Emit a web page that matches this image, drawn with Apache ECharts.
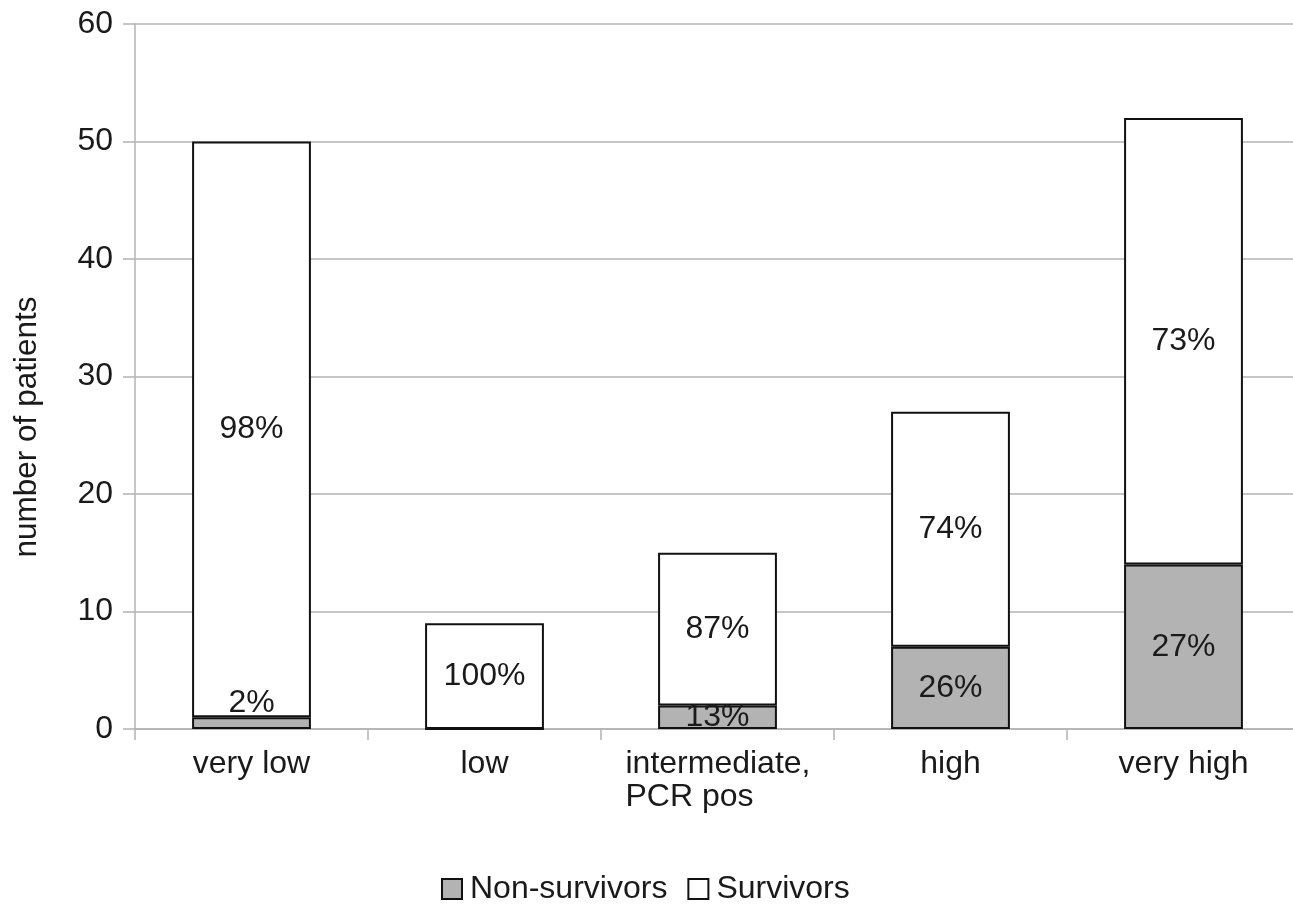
<!DOCTYPE html>
<html>
<head>
<meta charset="utf-8">
<script src="https://cdn.jsdelivr.net/npm/echarts@6/dist/echarts.min.js"></script>
<style>
  html, body { margin: 0; padding: 0; background: #ffffff; overflow: hidden; }
  /* the plot runs a few pixels past the page's right edge */
  #chart { width: 1300px; height: 904px; }
</style>
</head>
<body>
<div id="chart"></div>
<script>
// Risk groups and patient counts per outcome
const categories = ['very low', 'low', 'intermediate,\nPCR pos', 'high', 'very high'];
const nonSurvivors = [1, 0, 2, 7, 14];
const survivors = [49, 9, 13, 20, 38];
const yTicks = [0, 10, 20, 30, 40, 50, 60];

const FONT = '"Liberation Sans", Arial, sans-serif';
const TEXT = '#1a1a1a';
const FS = 32;

// share of each group's total, shown inside the segment
function pctLabel(values, others) {
  return function (p) {
    const v = values[p.dataIndex];
    const total = v + others[p.dataIndex];
    if (!v) return '';
    return Math.round(v / total * 100) + '%';
  };
}

const chart = echarts.init(document.getElementById('chart'));

chart.setOption({
  animation: false,
  backgroundColor: '#ffffff',
  textStyle: { fontFamily: FONT, color: TEXT },
  grid: { left: 135, top: 24, right: 0, bottom: 175, containLabel: false },
  graphic: [{
    type: 'text',
    x: 27, y: 427,
    rotation: Math.PI / 2,
    style: {
      text: 'number of patients',
      font: '31.5px ' + FONT,
      fill: TEXT,
      align: 'center',
      verticalAlign: 'middle'
    }
  }],
  legend: {
    bottom: -6,
    left: 436,
    itemWidth: 20,
    itemHeight: 20,
    itemGap: 20,
    icon: 'rect',
    textStyle: { fontSize: FS, fontFamily: FONT, color: TEXT, padding: [0, 0, 0, 3] },
    data: ['Non-survivors', 'Survivors']
  },
  xAxis: {
    type: 'category',
    data: categories,
    axisLine: { lineStyle: { color: '#b3b3b3', width: 1.5 } },
    axisTick: { show: true, length: 11, lineStyle: { color: '#b3b3b3', width: 1.5 } },
    axisLabel: {
      interval: 0,
      fontSize: FS,
      fontFamily: FONT,
      color: TEXT,
      margin: 19,
      lineHeight: 33,
      formatter: function (v) {
        if (v.indexOf('\n') < 0) return v;
        return v.split('\n').map(function (s) { return '{l|' + s + '}'; }).join('\n');
      },
      rich: {
        l: { width: 184, align: 'left', fontSize: FS, fontFamily: FONT, color: TEXT, lineHeight: 33 }
      }
    },
    splitLine: { show: false }
  },
  yAxis: {
    type: 'value',
    min: yTicks[0],
    max: yTicks[yTicks.length - 1],
    interval: 10,
    axisLine: { show: true, lineStyle: { color: '#b3b3b3', width: 1.5 } },
    axisTick: { show: true, length: 12, lineStyle: { color: '#b3b3b3', width: 1.5 } },
    axisLabel: { fontSize: FS, fontFamily: FONT, color: TEXT, margin: 22 },
    splitLine: { lineStyle: { color: '#b3b3b3', width: 1.5 } }
  },
  series: [
    {
      name: 'Non-survivors',
      type: 'bar',
      stack: 'total',
      barWidth: '51%',
      data: nonSurvivors.map(function (v) { return v; }),
      itemStyle: { color: '#b3b3b3', borderColor: '#111111', borderWidth: 2 },
      label: {
        show: true,
        position: 'inside',
        fontSize: FS,
        fontFamily: FONT,
        color: TEXT,
        formatter: pctLabel(nonSurvivors, survivors)
      },
      labelLayout: function (params) {
        // segments too thin for their label get it placed just above
        if (params.rect.height < 20) {
          return {
            x: params.rect.x + params.rect.width / 2,
            y: params.rect.y - 14,
            align: 'center',
            verticalAlign: 'middle'
          };
        }
        return {};
      }
    },
    {
      name: 'Survivors',
      type: 'bar',
      stack: 'total',
      barWidth: '51%',
      data: survivors.map(function (v) { return v; }),
      itemStyle: { color: '#ffffff', borderColor: '#111111', borderWidth: 2 },
      label: {
        show: true,
        position: 'inside',
        fontSize: FS,
        fontFamily: FONT,
        color: TEXT,
        formatter: pctLabel(survivors, nonSurvivors)
      }
    }
  ]
});
</script>
</body>
</html>
